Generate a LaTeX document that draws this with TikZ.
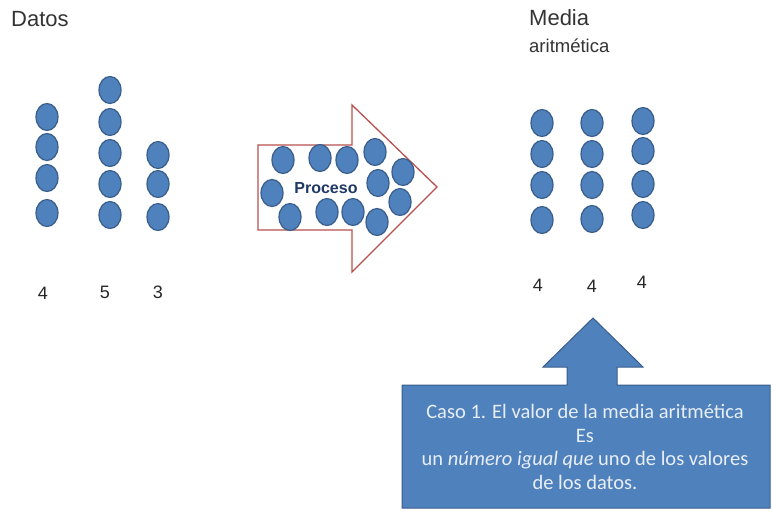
\documentclass[tikz,border=0pt]{standalone}
\usepackage{fontspec}
\setmainfont{Liberation Sans}
\newfontfamily\calib{Carlito}
\usetikzlibrary{shapes.geometric}
\definecolor{dotfill}{RGB}{79,129,189}
\definecolor{dotline}{RGB}{56,93,138}
\definecolor{arrowred}{RGB}{184,80,78}
\definecolor{navy}{RGB}{31,56,100}
\definecolor{lighttext}{RGB}{232,238,246}
\tikzset{
  dot/.style={ellipse, fill=dotfill, draw=dotline, line width=1.2pt, minimum width=22pt, minimum height=27pt, inner sep=0pt},
  lbl/.style={font=\fontsize{18}{21}\selectfont, text=black!85, inner sep=0pt},
  title/.style={font=\fontsize{22}{26}\selectfont, text=black!80, anchor=west, inner sep=0pt},
}
\begin{document}
\begin{tikzpicture}[x=1pt,y=-1pt]
\useasboundingbox (0,0) rectangle (772,514);
% titles
\node[title] (datos) at (11,19) {Datos};
\node[title] (media) at (529,18) {Media};
\node[title, font=\fontsize{18.5}{22}\selectfont] (arit) at (529,46) {aritmética};
% left data dots
\foreach \y [count=\i] in {117,147,178,213} \node[dot] (a\i) at (47,\y) {};
\foreach \y [count=\i] in {90,122,153,184,215} \node[dot] (b\i) at (110,\y) {};
\foreach \y [count=\i] in {155,184,217} \node[dot] (c\i) at (158,\y) {};
\node[lbl] (la) at (43,293) {4};
\node[lbl] (lb) at (105,292) {5};
\node[lbl] (lc) at (158,292) {3};
% process arrow
\draw[arrowred, line width=1.3pt, fill=white, line join=miter]
  (258,145) -- (352,145) -- (352,105) -- (437,187) -- (352,272) -- (352,230) -- (258,230) -- cycle;
\foreach \x/\y [count=\i] in {283/160,320/158,347/160,375/152,403/172,378/183,272/193,290/217,327/212,353/212,377/222,400/202}
  \node[dot] (p\i) at (\x,\y) {};
\node[font=\bfseries\fontsize{16}{19}\selectfont, text=navy, inner sep=0pt] (proc) at (326,188) {Proceso};
% mean dots
\foreach \y [count=\i] in {123,154,185,220} \node[dot] (m\i) at (542,\y) {};
\foreach \y [count=\i] in {123,154,185,219} \node[dot] (n\i) at (592,\y) {};
\foreach \y [count=\i] in {121,151,184,215} \node[dot] (o\i) at (643,\y) {};
\node[lbl] (lm) at (538,285) {4};
\node[lbl] (ln) at (592,286) {4};
\node[lbl] (lo) at (642,282) {4};
% callout
\draw[fill=dotfill, draw=dotline, line width=1pt, line join=miter]
  (402,385) -- (567,385) -- (567,367) -- (543,367) -- (593,318) -- (643,367) -- (617,367) -- (617,385)
  -- (770,385) -- (770,508) -- (402,508) -- cycle;
\node[font=\calib\fontsize{20.5}{23.5}\selectfont, text=lighttext, align=center, inner sep=0pt] (caso) at (585,447)
  {Caso 1. El valor de la media aritmética\\Es\\un \textit{número igual que} uno de los valores\\de los datos.};
\end{tikzpicture}
\end{document}
